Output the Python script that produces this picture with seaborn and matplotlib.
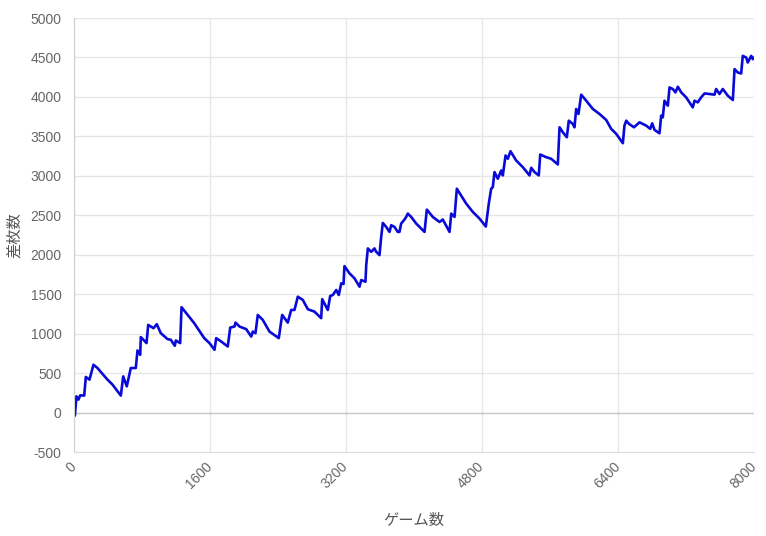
import pandas as pd
import seaborn as sns
import matplotlib.pyplot as plt

# game count (x) and coin difference (y)
games = [0, 10, 29, 53, 73, 120, 139, 182, 229, 276, 394, 453, 551, 579, 621, 668, 727, 747, 779, 786,
         853, 873, 935, 974, 1021, 1100, 1139, 1186, 1198, 1249, 1265, 1414, 1532, 1594, 1653, 1673, 1732, 1809, 1838, 1888,
         1900, 1947, 2026, 2085, 2104, 2135, 2162, 2221, 2300, 2409, 2449, 2515, 2555, 2594, 2633, 2692, 2751, 2829, 2908, 2920,
         2986, 3014, 3045, 3085, 3115, 3144, 3171, 3182, 3241, 3300, 3359, 3379, 3429, 3438, 3457, 3497, 3535, 3555, 3594, 3614,
         3633, 3673, 3712, 3732, 3771, 3809, 3829, 3849, 3888, 3908, 3927, 3967, 4026, 4124, 4151, 4221, 4300, 4339, 4418, 4438,
         4477, 4504, 4614, 4692, 4771, 4845, 4880, 4908, 4927, 4947, 4986, 5026, 5045, 5077, 5104, 5135, 5202, 5280, 5359, 5379,
         5418, 5468, 5485, 5555, 5614, 5692, 5712, 5751, 5798, 5821, 5868, 5888, 5908, 5935, 5967, 6026, 6104, 6182, 6261, 6320,
         6379, 6457, 6476, 6497, 6529, 6588, 6633, 6653, 6732, 6779, 6802, 6830, 6888, 6908, 6927, 6947, 6986, 7006, 7045, 7076,
         7104, 7144, 7202, 7280, 7300, 7339, 7378, 7418, 7476, 7535, 7555, 7594, 7633, 7692, 7751, 7771, 7810, 7849, 7868, 7908,
         7927, 7967, 7986, 8000]
diff = [0, -40, 206, 164, 218, 215, 451, 417, 606, 564, 417, 354, 215, 458, 332, 564, 564, 787, 732, 956,
        880, 1111, 1069, 1120, 1006, 931, 922, 846, 913, 880, 1335, 1133, 943, 880, 795, 943, 900, 837, 1077, 1090,
        1140, 1090, 1057, 963, 1026, 1006, 1237, 1174, 1026, 943, 1237, 1140, 1300, 1300, 1468, 1427, 1309, 1279, 1196, 1436,
        1300, 1477, 1490, 1553, 1490, 1638, 1629, 1856, 1764, 1701, 1595, 1679, 1658, 1869, 2080, 2037, 2080, 2037, 1995, 2226,
        2403, 2352, 2289, 2374, 2352, 2289, 2289, 2395, 2446, 2479, 2521, 2479, 2395, 2289, 2572, 2479, 2415, 2446, 2289, 2521,
        2479, 2837, 2648, 2542, 2458, 2357, 2648, 2837, 2857, 3047, 2963, 3068, 3005, 3258, 3216, 3312, 3194, 3110, 3005, 3102,
        3047, 3005, 3270, 3236, 3216, 3144, 3615, 3552, 3489, 3699, 3658, 3615, 3847, 3784, 4028, 3952, 3847, 3784, 3708, 3595,
        3532, 3413, 3636, 3699, 3658, 3615, 3658, 3678, 3636, 3595, 3665, 3582, 3539, 3763, 3741, 3952, 3889, 4120, 4100, 4057,
        4129, 4057, 3994, 3867, 3952, 3931, 3994, 4044, 4037, 4028, 4100, 4037, 4100, 4015, 3961, 4352, 4309, 4297, 4520, 4499,
        4436, 4520, 4478, 4500]

x_ticks = [0, 1600, 3200, 4800, 6400, 8000]
y_ticks = [-500, 0, 500, 1000, 1500, 2000, 2500, 3000, 3500, 4000, 4500, 5000]

df = pd.DataFrame({'games': games, 'diff': diff})

sns.set_style('white')
plt.rcParams['font.family'] = ['Liberation Sans', 'Noto Sans CJK JP', 'DejaVu Sans']
plt.rcParams['axes.unicode_minus'] = False

fig = plt.figure(figsize=(7.66, 5.36), dpi=100)
ax = fig.add_axes([74 / 766, 1 - 452 / 536, 680 / 766, 434 / 536])

sns.lineplot(data=df, x='games', y='diff', ax=ax, color='#0a0ad8', linewidth=1.9, sort=False)

ax.set_xlim(0, 8000)
ax.set_ylim(-500, 5000)
ax.set_xticks(x_ticks)
ax.set_yticks(y_ticks)
ax.grid(True, color='#e6e6e6', linewidth=1)
ax.axhline(0, color='#c8c8c8', linewidth=1, zorder=1)

for s in ['top', 'right']:
    ax.spines[s].set_visible(False)
ax.spines['left'].set_color('#cfcfcf')
ax.spines['bottom'].set_color('#dedede')

ax.tick_params(axis='y', length=7, width=1, color='#e0e0e0', labelcolor='#666666', labelsize=10, pad=2)
ax.tick_params(axis='x', length=0, labelcolor='#666666', labelsize=10, pad=9)
plt.setp(ax.get_xticklabels(), rotation=45, ha='right', va='center', rotation_mode='anchor')

ax.set_xlabel('ゲーム数', fontsize=11, color='#555555')
ax.set_ylabel('差枚数', fontsize=11, color='#555555')
ax.xaxis.set_label_coords(0.5, -0.143)
ax.yaxis.set_label_coords(-0.077, 0.5)

plt.savefig('out.png', dpi=100)
